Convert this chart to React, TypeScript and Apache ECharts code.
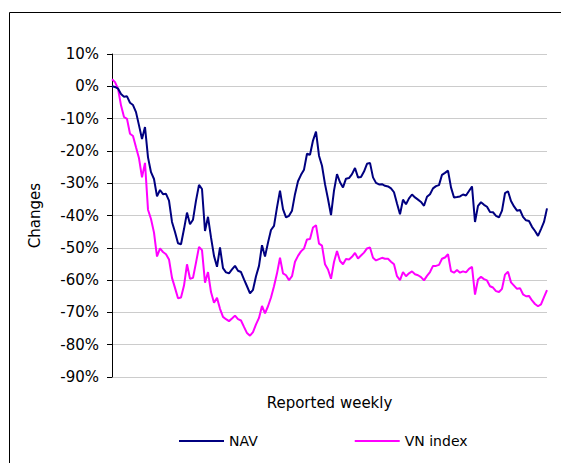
import React, { useEffect, useRef } from "react";
import * as echarts from "echarts";

// Weekly % change since launch
const navValues: number[] = [
  0, -0.2, -0.7, -2.4, -3.2, -3.1, -5.1, -5.8, -8.0, -12.1, -16.3, -12.6, -22.0, -26.6, -28.7, -34.1, -32.1, -33.4, -33.3, -35.4, -42.0, -45.1, -48.6, -48.9, -44.2, -39.1,
  -42.7, -41.3, -35.4, -30.5, -31.8, -44.8, -40.4, -46.8, -52.5, -55.9, -49.9, -56.3, -57.6, -57.9, -56.7, -55.6, -57.1, -57.5, -59.8, -61.9, -64.1, -63.0, -58.8, -55.6, -49.2, -52.7, -48.4, -44.5, -43.2, -37.5,
  -32.3, -38.0, -40.6, -40.1, -38.5, -33.4, -29.4, -27.4, -25.8, -20.9, -21.2, -16.8, -14.0, -21.5, -24.6, -30.3, -34.9, -39.9, -32.3, -27.2, -29.7, -31.3, -28.6, -28.4, -27.2, -25.3, -28.2, -28.1, -26.4, -24.0,
  -23.7, -28.2, -29.9, -30.4, -30.3, -30.8, -31.0, -31.6, -32.8, -36.3, -39.6, -35.1, -36.5, -34.7, -33.5, -34.4, -35.1, -35.8, -37.0, -34.2, -33.4, -31.6, -30.9, -30.6, -27.4, -26.8, -26.1, -31.3, -34.4, -34.3,
  -34.1, -33.5, -33.8, -32.4, -31.0, -42.0, -37.0, -35.9, -36.7, -37.3, -38.9, -39.0, -40.1, -40.6, -38.5, -33.1, -32.5, -35.5, -37.2, -38.5, -38.3, -40.4, -41.5, -41.7, -43.5, -44.8, -46.3, -44.2, -42.0, -37.8,
];

const vnIndexValues: number[] = [
  2.2, 1.3, -0.7, -5.9, -9.5, -10.1, -14.7, -15.4, -18.9, -22.3, -28.2, -23.7, -38.2, -41.1, -45.3, -52.7, -50.2, -51.3, -52.0, -53.6, -59.3, -62.4, -65.6, -65.4, -61.7, -55.1,
  -59.6, -59.3, -54.6, -49.7, -50.7, -60.8, -57.5, -63.7, -67.0, -65.5, -68.9, -71.4, -72.1, -72.7, -71.9, -71.0, -72.1, -72.5, -74.5, -76.4, -77.2, -76.1, -73.7, -71.7, -68.0, -70.3, -68.1, -65.4, -61.9, -57.9,
  -53.1, -57.9, -58.5, -60.0, -58.8, -54.3, -52.5, -51.1, -50.2, -47.4, -47.3, -43.7, -43.0, -48.7, -49.3, -55.1, -56.7, -59.6, -54.4, -51.0, -54.1, -55.1, -53.5, -53.6, -52.8, -51.6, -53.3, -52.4, -51.5, -50.2,
  -49.9, -53.1, -53.9, -53.5, -53.1, -53.4, -53.4, -54.3, -55.1, -58.8, -60.0, -57.5, -58.8, -57.9, -57.3, -58.2, -58.5, -59.1, -60.1, -58.7, -57.5, -55.6, -55.6, -55.3, -53.4, -53.0, -52.0, -57.2, -57.7, -56.9,
  -57.7, -57.3, -57.6, -56.5, -55.9, -64.5, -59.8, -59.0, -59.7, -60.1, -61.9, -62.3, -63.4, -63.7, -62.7, -58.3, -57.4, -60.7, -61.7, -62.7, -62.5, -64.4, -65.0, -64.9, -66.3, -67.4, -68.1, -67.5, -65.3, -63.1,
];

const weeks: string[] = navValues.map((_, i) => `Week ${i + 1}`);

const seriesNames = ["NAV", "VN index"];
const seriesColors = ["#000080", "#ff00ff"];
const yTickMin = -90;
const yTickMax = 10;
const yTickStep = 10;

const FONT = "DejaVu Sans, Verdana, sans-serif";

export default function App() {
  const ref = useRef<HTMLDivElement>(null);

  useEffect(() => {
    if (!ref.current) return;
    const chart = echarts.init(ref.current, null, { renderer: "svg" });
    chart.setOption({
      animation: false,
      backgroundColor: "#ffffff",
      textStyle: { fontFamily: FONT },
      graphic: [
        {
          type: "rect",
          shape: { x: 9.5, y: 12.5, width: 700, height: 600 },
          style: { fill: "none", stroke: "#000000", lineWidth: 1 },
          silent: true,
          z: -10,
        },
      ],
      grid: { left: 112, right: 14, top: 54, bottom: 86, containLabel: false },
      legend: {
        left: 179,
        top: 432,
        padding: 0,
        icon: "rect",
        itemWidth: 45,
        itemHeight: 2,
        itemGap: 97,
        textStyle: { fontFamily: FONT, fontSize: 14, color: "#000000", lineHeight: 18 },
        data: seriesNames.map((name, i) => ({
          name,
          itemStyle: { color: seriesColors[i] },
        })),
      },
      xAxis: {
        type: "category",
        data: weeks,
        boundaryGap: false,
        axisLine: { show: false },
        axisTick: { show: false },
        axisLabel: { show: false },
        splitLine: { show: false },
        name: "Reported weekly",
        nameLocation: "middle",
        nameGap: 18,
        nameTextStyle: { fontFamily: FONT, fontSize: 15, color: "#000000" },
      },
      yAxis: {
        type: "value",
        min: yTickMin,
        max: yTickMax,
        interval: yTickStep,
        axisLine: { show: true, lineStyle: { color: "#000000", width: 1 } },
        axisTick: { show: true, length: 5, inside: false, lineStyle: { color: "#000000" } },
        axisLabel: {
          margin: 13,
          fontFamily: FONT,
          fontSize: 15,
          color: "#000000",
          formatter: (v: number) => `${Math.round(v)}%`,
        },
        splitLine: { show: true, lineStyle: { color: "#cccccc", width: 1 } },
        name: "Changes",
        nameLocation: "middle",
        nameGap: 70,
        nameRotate: 90,
        nameTextStyle: { fontFamily: FONT, fontSize: 15, color: "#000000" },
      },
      series: [
        {
          name: seriesNames[0],
          type: "line",
          data: navValues,
          symbol: "none",
          lineStyle: { color: seriesColors[0], width: 2 },
          itemStyle: { color: seriesColors[0] },
          z: 3,
        },
        {
          name: seriesNames[1],
          type: "line",
          data: vnIndexValues,
          symbol: "none",
          lineStyle: { color: seriesColors[1], width: 2 },
          itemStyle: { color: seriesColors[1] },
          z: 2,
        },
      ],
    });
    return () => chart.dispose();
  }, []);

  return (
    <div
      ref={ref}
      style={{ position: "absolute", left: 0, top: 0, width: 561, height: 463 }}
    />
  );
}
